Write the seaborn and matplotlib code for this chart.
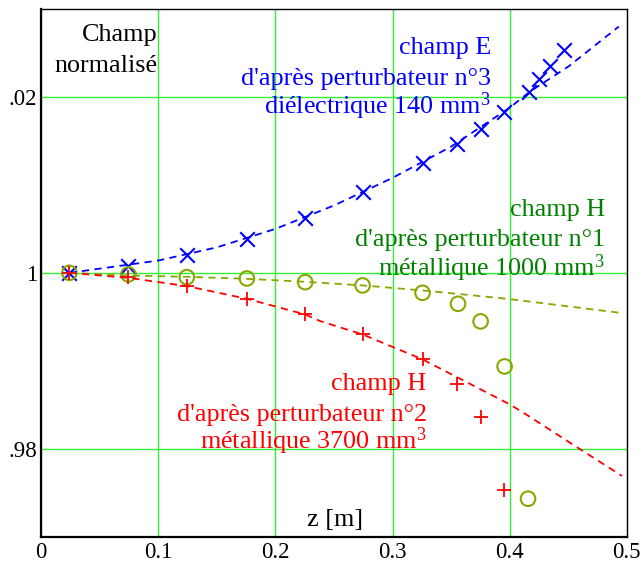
import matplotlib
matplotlib.use("Agg")
import matplotlib.pyplot as plt
import seaborn as sns
import pandas as pd

# measured points
z_pts = [0.024, 0.0744, 0.1243, 0.1756, 0.2254, 0.2744, 0.3256, 0.355, 0.3758, 0.3949, 0.4162, 0.4254, 0.4348, 0.4468]
e_meas = [1.0, 1.00076, 1.00201, 1.0038, 1.00618, 1.0092, 1.0125, 1.01466, 1.01636, 1.0183, 1.02057, 1.022, 1.0235, 1.0253]

zh1 = [0.024, 0.0744, 0.1243, 0.1756, 0.2254, 0.2744, 0.3256, 0.3559, 0.3752, 0.3957, 0.4157]
h1_meas = [1.0, 0.99982, 0.99951, 0.99936, 0.99894, 0.99857, 0.99773, 0.99648, 0.99448, 0.98936, 0.97432]

zh2 = [0.024, 0.0744, 0.1243, 0.1756, 0.2254, 0.2744, 0.3256, 0.355, 0.3752, 0.3952]
h2_meas = [1.0, 0.99955, 0.99849, 0.99705, 0.99527, 0.9930, 0.99016, 0.98732, 0.98364, 0.97527]

# theoretical curves (dashed)
ze_th = [0.024, 0.1, 0.15, 0.2, 0.25, 0.3, 0.35, 0.4, 0.4177, 0.4503, 0.4932]
e_th = [1.0, 1.0014, 1.0029, 1.0050, 1.00766, 1.0108, 1.01435, 1.01877, 1.02064, 1.02347, 1.0280]

zh1_th = [0.024, 0.0744, 0.1243, 0.1756, 0.2254, 0.2744, 0.3256, 0.3978, 0.4946]
h1_th = [1.0, 0.99970, 0.99955, 0.99932, 0.99898, 0.99857, 0.99800, 0.99705, 0.99545]

zh2_th = [0.024, 0.0744, 0.1243, 0.1756, 0.2254, 0.2382, 0.2744, 0.3256, 0.4, 0.4149, 0.4604, 0.4960]
h2_th = [1.0, 0.99943, 0.99849, 0.99705, 0.99527, 0.99451, 0.9930, 0.99016, 0.98505, 0.98383, 0.97993, 0.97690]

x_ticks = [0, 0.1, 0.2, 0.3, 0.4, 0.5]
x_ticklabels = ["0", "0.1", "0.2", "0.3", "0.4", "0.5"]
y_ticks = [0.98, 1.0, 1.02]
y_ticklabels = [".98", "1", ".02"]

title_lines = ["Champ", "normalisé"]
e_lines = ["champ E", "d'après perturbateur n°3", r"diélectrique 140 mm$^{\mathrm{3}}$"]
h1_lines = ["champ H", "d'après perturbateur n°1", r"métallique 1000 mm$^{\mathrm{3}}$"]
h2_lines = ["champ H", "d'après perturbateur n°2", r"métallique 3700 mm$^{\mathrm{3}}$"]
xlabel = "z [m]"

BLUE = "#0000ff"
RED = "#ff0000"
OLIVE = "#86a800"
GREEN = "#008000"
GRID = "#33ee33"

sns.set_style("white")
plt.rcParams["font.family"] = ["Liberation Serif", "DejaVu Serif"]
plt.rcParams["mathtext.fontset"] = "custom"
plt.rcParams["mathtext.rm"] = "Liberation Serif"
plt.rcParams["mathtext.it"] = "Liberation Serif:italic"
plt.rcParams["mathtext.bf"] = "Liberation Serif:bold"

fig = plt.figure(figsize=(6.43, 5.65), dpi=100)
ax = fig.add_axes([0.0642, 0.0501, 0.9105, 0.934])

ax.set_xlim(0, 0.5)
ax.set_ylim(0.97, 1.03)
ax.set_xticks(x_ticks)
ax.set_xticklabels(x_ticklabels)
ax.set_yticks(y_ticks)
ax.set_yticklabels(y_ticklabels)
ax.grid(True, color=GRID, linewidth=1.0)
ax.set_axisbelow(True)
ax.tick_params(axis="both", length=0, labelsize=16.5, colors="black")
ax.tick_params(axis="x", pad=4)
ax.tick_params(axis="y", pad=3)
for s in ax.spines.values():
    s.set_color("black")
    s.set_linewidth(1.0)
ax.spines["left"].set_linewidth(1.6)
ax.spines["bottom"].set_linewidth(1.6)

df_e = pd.DataFrame({"z": ze_th, "v": e_th})
df_h1 = pd.DataFrame({"z": zh1_th, "v": h1_th})
df_h2 = pd.DataFrame({"z": zh2_th, "v": h2_th})
sns.lineplot(data=df_e, x="z", y="v", ax=ax, color=BLUE, linestyle=(0, (4, 3)), linewidth=1.3, sort=False)
sns.lineplot(data=df_h1, x="z", y="v", ax=ax, color=OLIVE, linestyle=(0, (4, 3)), linewidth=1.3, sort=False)
sns.lineplot(data=df_h2, x="z", y="v", ax=ax, color=RED, linestyle=(0, (4, 3)), linewidth=1.3, sort=False)

sns.scatterplot(x=z_pts, y=e_meas, ax=ax, marker="x", s=110, color=BLUE, linewidth=1.5)
sns.scatterplot(x=zh1, y=h1_meas, ax=ax, marker="o", s=110, facecolor="none", edgecolor=OLIVE, linewidth=1.5)
sns.scatterplot(x=zh2, y=h2_meas, ax=ax, marker="+", s=110, color=RED, linewidth=1.3)

ax.set_xlabel("")
ax.set_ylabel("")

fs = 18.8


def block(x, ys, lines, color):
    for yy, t in zip(ys, lines):
        ax.text(x, yy, t, ha="right", va="baseline", fontsize=fs, color=color)


block(0.0989, [1.02633, 1.02280], title_lines, "black")
block(0.3839, [1.02493, 1.02141, 1.01811], e_lines, BLUE)
block(0.4814, [1.00644, 1.00303, 0.99962], h1_lines, GREEN)
block(0.3292, [0.98667, 0.98315, 0.97993], h2_lines, RED)
ax.text(0.251, 0.97122, xlabel, ha="center", va="baseline", fontsize=fs, color="black")

fig.savefig("out.png", dpi=100)
